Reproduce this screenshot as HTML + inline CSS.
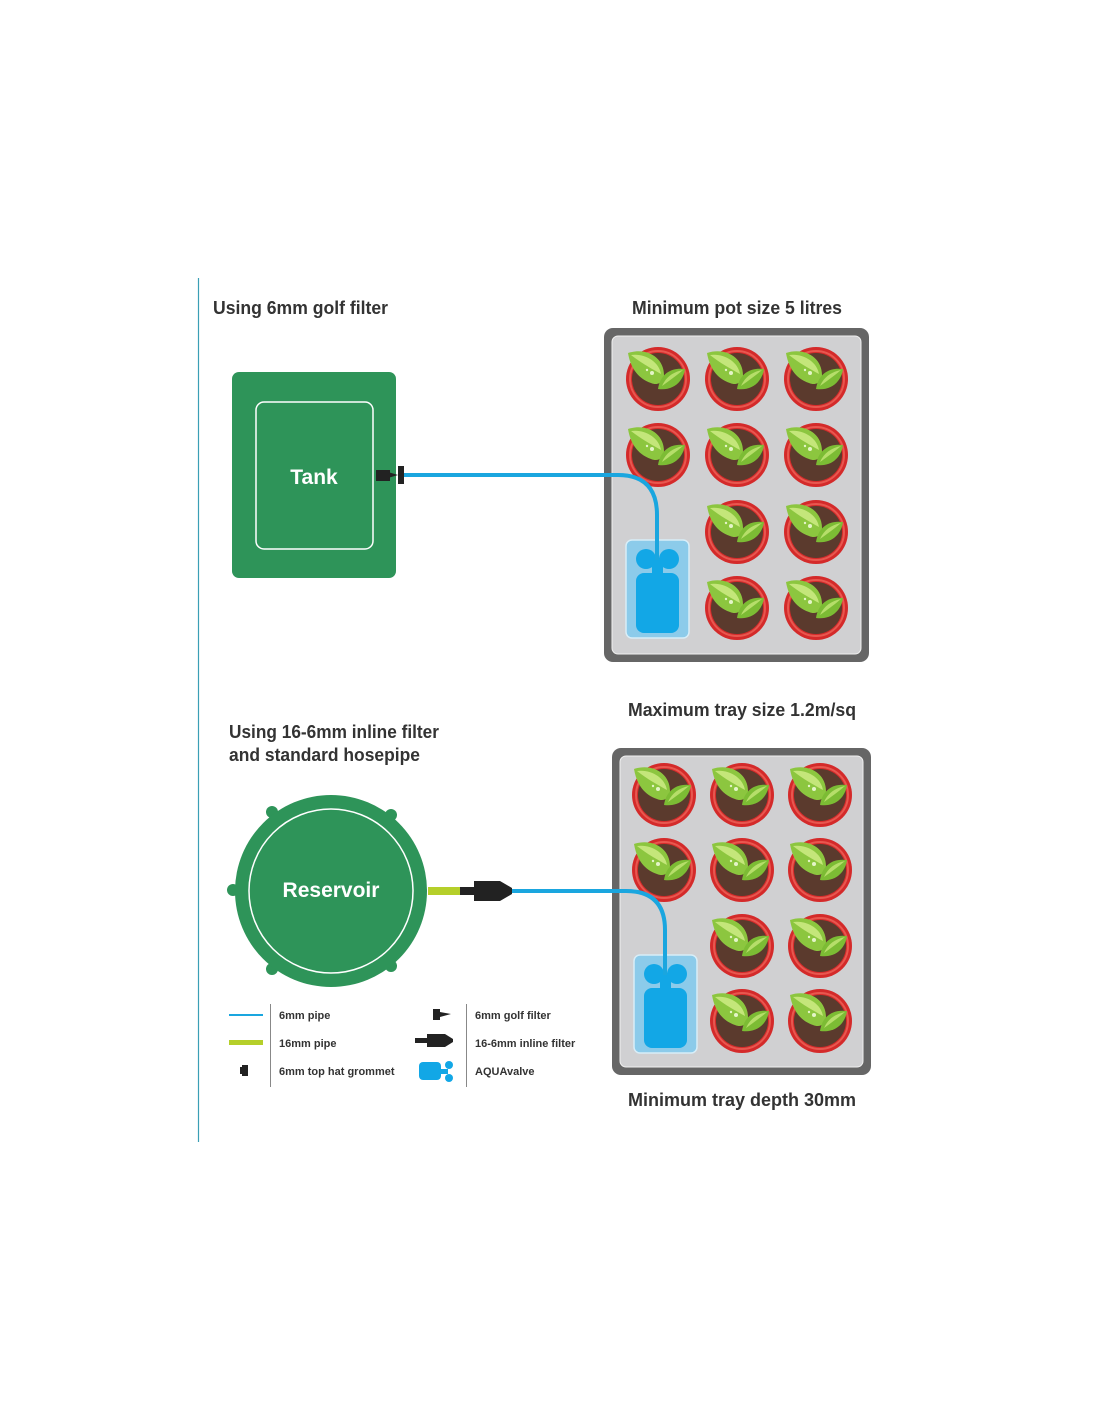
<!DOCTYPE html>
<html><head><meta charset="utf-8"><style>
html,body{margin:0;padding:0;background:#fff;}
svg{display:block}
text{font-family:"Liberation Sans",sans-serif;font-weight:bold;}
</style></head><body>
<svg width="1100" height="1422" viewBox="0 0 1100 1422" xmlns="http://www.w3.org/2000/svg">
<defs>
  <g id="pot">
    <circle cx="0" cy="0" r="32" fill="#d42a2a"/>
    <circle cx="0" cy="0" r="28" fill="none" stroke="#e8574f" stroke-width="2"/>
    <circle cx="0" cy="0" r="26" fill="#5b3a2d"/>
    <path d="M-30,-26 C-12,-32 6,-22 6,-4 C6,3 0,7 -7,4 C-22,-1 -28,-14 -30,-26Z" fill="#8cc63f"/>
    <path d="M-27,-24 C-14,-26 1,-18 3,-5 C-6,-10 -17,-16 -27,-24Z" fill="#c4e67a"/>
    <path d="M0,10 C2,-4 12,-12 27,-10 C25,3 15,12 0,10Z" fill="#7cbc34"/>
    <path d="M4,7 C8,-2 15,-7 25,-9 C18,-3 11,2 4,7Z" fill="#b6de6a"/>
    <circle cx="-6" cy="-6" r="2" fill="#e4f4c8"/>
    <circle cx="-11" cy="-9" r="1.2" fill="#e4f4c8"/>
  </g>
  <g id="valve">
    <rect x="0" y="0" width="63" height="98" rx="6" fill="#8ccbea" stroke="#d8eef8" stroke-width="1.5"/>
    <circle cx="20" cy="19" r="10" fill="#12a7e6"/>
    <circle cx="43" cy="19" r="10" fill="#12a7e6"/>
    <rect x="26" y="18" width="11" height="16" fill="#12a7e6"/>
    <rect x="10" y="33" width="43" height="60" rx="8" fill="#12a7e6"/>
  </g>
</defs>

<line x1="198.5" y1="278" x2="198.5" y2="1142" stroke="#3b9fb5" stroke-width="1.2"/>

<text x="213" y="314" font-size="18" fill="#333" textLength="175" lengthAdjust="spacingAndGlyphs">Using 6mm golf filter</text>
<text x="632" y="314" font-size="18" fill="#333" textLength="210" lengthAdjust="spacingAndGlyphs">Minimum pot size 5 litres</text>

<!-- Tank -->
<rect x="232" y="372" width="164" height="206" rx="7" fill="#2e9459"/>
<rect x="256" y="402" width="117" height="147" rx="8" fill="none" stroke="#fff" stroke-width="1.5"/>
<text x="314" y="484" font-size="21" fill="#fff" text-anchor="middle">Tank</text>

<!-- top tray -->
<rect x="604" y="328" width="265" height="334" rx="9" fill="#666"/>
<rect x="612" y="336" width="249" height="318" rx="6" fill="#d0d0d2" stroke="#f0f0f0" stroke-width="1"/>
<use href="#pot" x="658" y="379"/>
<use href="#pot" x="737" y="379"/>
<use href="#pot" x="816" y="379"/>
<use href="#pot" x="658" y="455"/>
<use href="#pot" x="737" y="455"/>
<use href="#pot" x="816" y="455"/>
<use href="#pot" x="737" y="532"/>
<use href="#pot" x="816" y="532"/>
<use href="#pot" x="737" y="608"/>
<use href="#pot" x="816" y="608"/>
<use href="#valve" x="626" y="540"/>

<!-- top pipe -->
<path d="M404,475 L618,475 Q657,475 657,515 L657,560" fill="none" stroke="#1aa6df" stroke-width="4"/>
<rect x="376" y="470" width="14" height="11" fill="#222"/>
<path d="M388,472 L398,475 L388,478Z" fill="#222"/>
<rect x="398" y="466" width="6" height="18" fill="#222"/>

<!-- bottom -->
<text x="229" y="738" font-size="18" fill="#333" textLength="210" lengthAdjust="spacingAndGlyphs">Using 16-6mm inline filter</text>
<text x="229" y="761" font-size="18" fill="#333" textLength="191" lengthAdjust="spacingAndGlyphs">and standard hosepipe</text>
<text x="628" y="716" font-size="18" fill="#333" textLength="228" lengthAdjust="spacingAndGlyphs">Maximum tray size 1.2m/sq</text>
<text x="628" y="1106" font-size="18" fill="#333" textLength="228" lengthAdjust="spacingAndGlyphs">Minimum tray depth 30mm</text>

<!-- Reservoir -->
<circle cx="272" cy="812" r="6" fill="#2e9459"/>
<circle cx="391" cy="815" r="6" fill="#2e9459"/>
<circle cx="233" cy="890" r="6" fill="#2e9459"/>
<circle cx="272" cy="969" r="6" fill="#2e9459"/>
<circle cx="391" cy="966" r="6" fill="#2e9459"/>
<circle cx="331" cy="891" r="96" fill="#2e9459"/>
<circle cx="331" cy="891" r="82" fill="none" stroke="#fff" stroke-width="1.5"/>
<text x="331" y="897" font-size="21" fill="#fff" text-anchor="middle">Reservoir</text>

<!-- bottom tray -->
<rect x="612" y="748" width="259" height="327" rx="9" fill="#666"/>
<rect x="620" y="756" width="243" height="311" rx="6" fill="#d0d0d2" stroke="#f0f0f0" stroke-width="1"/>
<use href="#pot" x="664" y="795"/>
<use href="#pot" x="742" y="795"/>
<use href="#pot" x="820" y="795"/>
<use href="#pot" x="664" y="870"/>
<use href="#pot" x="742" y="870"/>
<use href="#pot" x="820" y="870"/>
<use href="#pot" x="742" y="946"/>
<use href="#pot" x="820" y="946"/>
<use href="#pot" x="742" y="1021"/>
<use href="#pot" x="820" y="1021"/>
<use href="#valve" x="634" y="955"/>

<rect x="428" y="887" width="34" height="8" fill="#b5cf2a"/>
<rect x="460" y="887" width="14" height="8" fill="#222"/>
<path d="M474,881 L500,881 L512,888 L512,894 L500,901 L474,901Z" fill="#222"/>
<path d="M512,891 L626,891 Q665,891 665,930 L665,975" fill="none" stroke="#1aa6df" stroke-width="4"/>

<!-- legend -->
<line x1="270.5" y1="1004" x2="270.5" y2="1087" stroke="#888" stroke-width="1"/>
<line x1="466.5" y1="1004" x2="466.5" y2="1087" stroke="#888" stroke-width="1"/>
<rect x="229" y="1014" width="34" height="2" fill="#1aa6df"/>
<rect x="229" y="1040" width="34" height="5" fill="#b5cf2a"/>
<rect x="242" y="1065" width="6" height="11" fill="#222"/>
<rect x="240" y="1067" width="3" height="7" fill="#222"/>
<text x="279" y="1019" font-size="11" fill="#333">6mm pipe</text>
<text x="279" y="1047" font-size="11" fill="#333">16mm pipe</text>
<text x="279" y="1075" font-size="11" fill="#333">6mm top hat grommet</text>
<rect x="433" y="1009" width="7" height="11" fill="#222"/>
<path d="M440,1012 L451,1014 L440,1017Z" fill="#222"/>
<rect x="415" y="1038" width="12" height="5" fill="#222"/>
<path d="M427,1034 L445,1034 L453,1039 L453,1042 L445,1047 L427,1047Z" fill="#222"/>
<rect x="419" y="1062" width="22" height="18" rx="4" fill="#12a7e6"/>
<circle cx="449" cy="1065" r="4" fill="#12a7e6"/>
<circle cx="449" cy="1078" r="4" fill="#12a7e6"/>
<rect x="440" y="1069" width="8" height="5" fill="#12a7e6"/>
<text x="475" y="1019" font-size="11" fill="#333">6mm golf filter</text>
<text x="475" y="1047" font-size="11" fill="#333">16-6mm inline filter</text>
<text x="475" y="1075" font-size="11" fill="#333">AQUAvalve</text>
</svg>
</body></html>
